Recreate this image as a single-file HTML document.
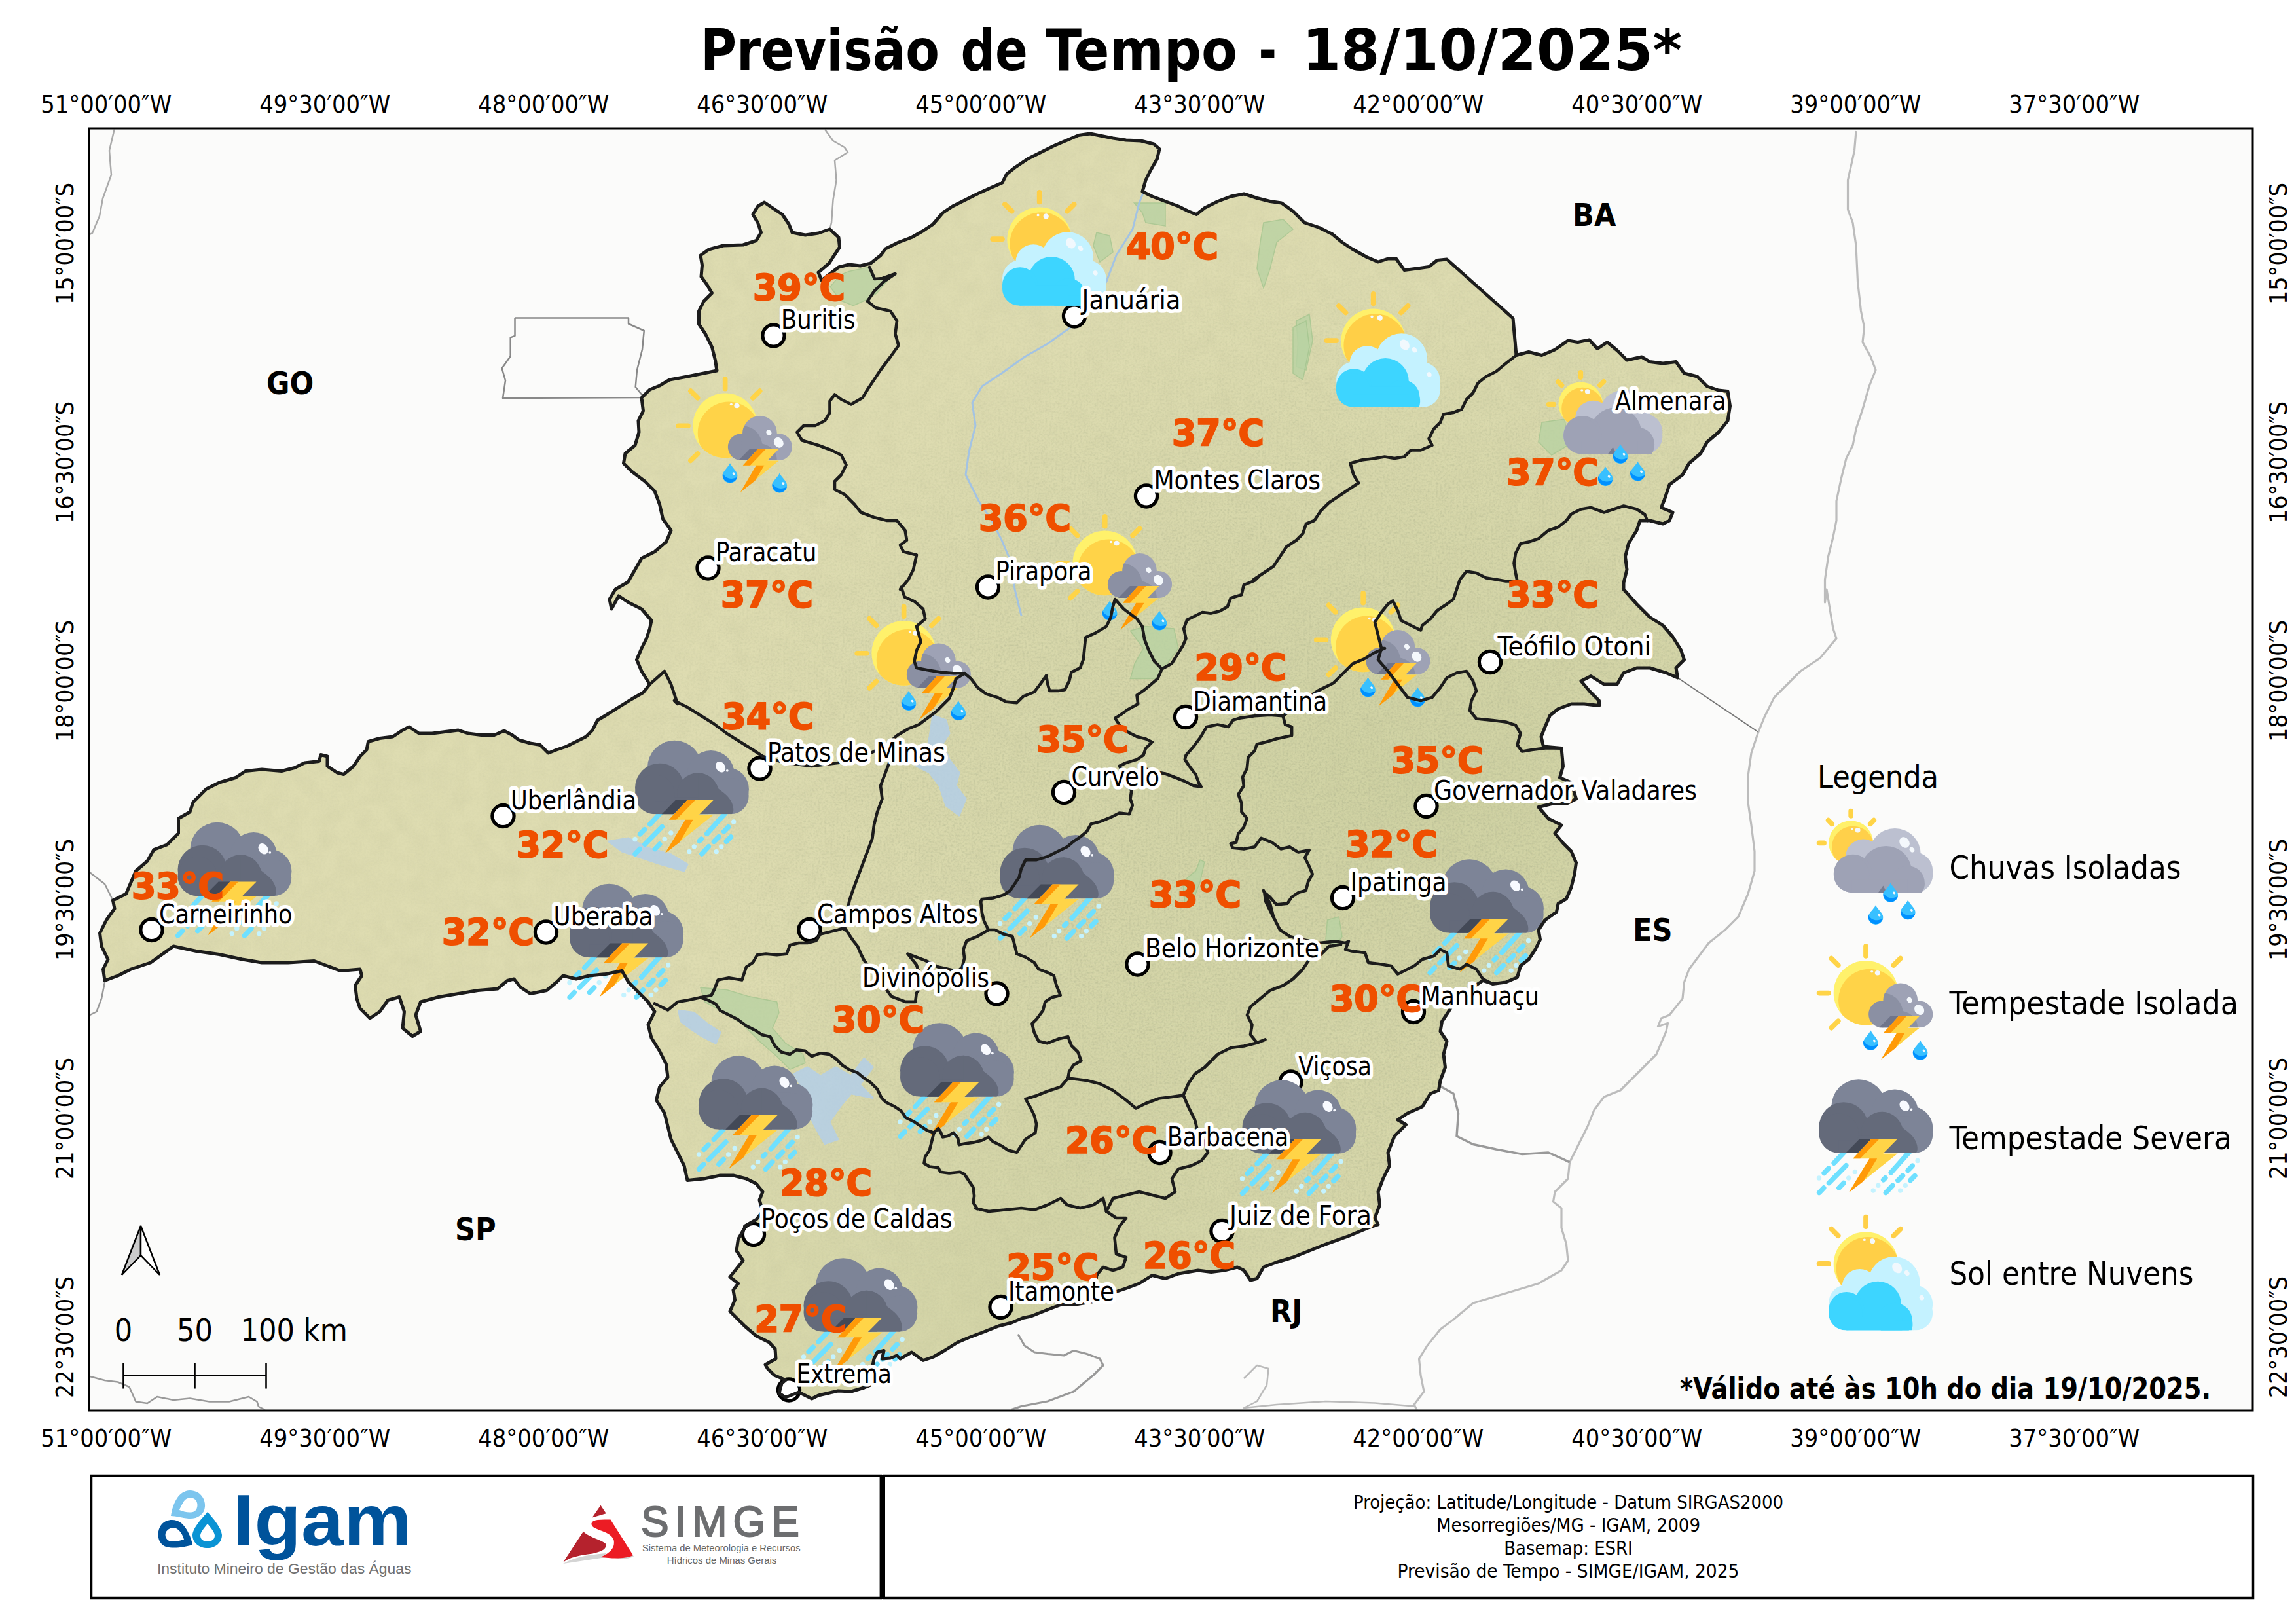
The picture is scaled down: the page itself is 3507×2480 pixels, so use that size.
<!DOCTYPE html>
<html lang="pt-BR"><head><meta charset="utf-8"><title>Previsão de Tempo - 18/10/2025</title>
<style>
html,body{margin:0;padding:0;background:#fff;}
svg{display:block;font-family:'DejaVu Sans Condensed','DejaVu Sans','Liberation Sans',sans-serif;}
.city{font-size:40px;fill:#000;stroke:#fff;stroke-width:11px;stroke-linejoin:round;paint-order:stroke;}
.temp{font-size:55.5px;font-weight:bold;fill:#ef4f00;stroke:#ef4f00;stroke-width:2px;}
.uf{font-size:48px;font-weight:bold;fill:#000;}
.coord{font-size:38px;fill:#000;}
.leg{font-size:49px;fill:#000;}
.foot{font-size:24px;fill:#111;}
</style></head><body>
<svg width="3507" height="2480" viewBox="0 0 3507 2480">
<defs>
<g id="i-sol"><g transform="translate(-120,-120)"><line x1="730" y1="150" x2="730" y2="270" stroke="#ffcf47" stroke-width="62" stroke-linecap="round"/><line x1="302" y1="298" x2="388" y2="384" stroke="#ffcf47" stroke-width="62" stroke-linecap="round"/><line x1="1160" y1="298" x2="1074" y2="384" stroke="#ffcf47" stroke-width="62" stroke-linecap="round"/><line x1="150" y1="730" x2="270" y2="730" stroke="#ffcf47" stroke-width="62" stroke-linecap="round"/><circle cx="730" cy="735" r="400" fill="#fff06a"/><clipPath id="cs1"><circle cx="730" cy="735" r="400"/></clipPath><circle cx="755" cy="790" r="392" fill="#ffcf47" clip-path="url(#cs1)"/><ellipse cx="713" cy="432" rx="17" ry="15" fill="#f4f8fc"/><ellipse cx="812" cy="448" rx="33" ry="35" fill="#f4f8fc" transform="rotate(-30 812 448)"/><clipPath id="cb1"><rect x="0" y="0" width="1700" height="1555"/></clipPath><g fill="#c4f2ff" clip-path="url(#cb1)"><circle cx="1080" cy="962" r="320"/><circle cx="655" cy="1015" r="220"/><circle cx="495" cy="1215" r="225"/><circle cx="1320" cy="1230" r="240"/><rect x="495" y="1000" width="830" height="555"/><circle cx="560" cy="1340" r="215"/><circle cx="1345" cy="1340" r="215"/></g><g fill="#3dd5ff" clip-path="url(#cb1)"><circle cx="880" cy="1238" r="290"/><circle cx="490" cy="1300" r="220"/><circle cx="1090" cy="1430" r="215"/><rect x="490" y="1300" width="600" height="255"/><circle cx="480" cy="1345" r="210"/><rect x="480" y="1400" width="700" height="155"/><path d="M1090,1555 L1297,1555 A215,215 0 0 0 1305,1430 L1090,1430Z"/></g><ellipse cx="1118" cy="782" rx="55" ry="70" fill="#f1f8fd" transform="rotate(-38 1118 782)"/><ellipse cx="1240" cy="845" rx="28" ry="36" fill="#f1f8fd" transform="rotate(-38 1240 845)"/><ellipse cx="1423" cy="1150" rx="28" ry="32" fill="#f1f8fd" transform="rotate(-30 1423 1150)"/></g></g>
<g id="i-chuva"><g transform="translate(-120,-120)"><line x1="545" y1="150" x2="545" y2="210" stroke="#ffd447" stroke-width="62" stroke-linecap="round"/><line x1="265" y1="265" x2="310" y2="310" stroke="#ffd447" stroke-width="62" stroke-linecap="round"/><line x1="830" y1="265" x2="785" y2="310" stroke="#ffd447" stroke-width="62" stroke-linecap="round"/><line x1="150" y1="547" x2="212" y2="547" stroke="#ffd447" stroke-width="62" stroke-linecap="round"/><circle cx="545" cy="545" r="275" fill="#fff06a"/><clipPath id="cs2"><circle cx="545" cy="545" r="275"/></clipPath><circle cx="570" cy="600" r="262" fill="#ffd04a" clip-path="url(#cs2)"/><ellipse cx="560" cy="372" rx="17" ry="14" fill="#f4f8fc"/><ellipse cx="630" cy="388" rx="32" ry="30" fill="#f4f8fc"/><clipPath id="cb2"><rect x="0" y="0" width="1700" height="1160"/></clipPath><g fill="#bcc0d0" clip-path="url(#cb2)"><circle cx="1090" cy="685" r="320"/><circle cx="700" cy="722" r="222"/><circle cx="1330" cy="890" r="230"/><circle cx="560" cy="930" r="230"/><rect x="560" y="720" width="770" height="440"/><circle cx="1345" cy="945" r="215"/></g><g fill="#9ea2b5" clip-path="url(#cb2)"><circle cx="980" cy="905" r="320"/><circle cx="570" cy="925" r="237"/><circle cx="1250" cy="1040" r="210"/><rect x="570" y="950" width="680" height="210"/><circle cx="553" cy="940" r="220"/><path d="M553,1160 L1250,1160 L1250,1000 L553,1000Z"/><path d="M1250,1160 L1425,1160 A210,210 0 0 0 1460,1040 L1250,1040Z"/></g><ellipse cx="1210" cy="540" rx="58" ry="72" fill="#f4f8fc" transform="rotate(-38 1210 540)"/><ellipse cx="1302" cy="630" rx="28" ry="34" fill="#f4f8fc" transform="rotate(-38 1302 630)"/><path d="M945,1075 L885,1160 L990,1160Z" fill="#787c90"/><path d="M1037,1040 C1067,1100 1129,1140 1129,1190 A92,92 0 0 1 945,1190 C945,1140 1007,1100 1037,1040Z" fill="#38c0ff"/><path d="M949,1160 C967,1215 1047,1252 1127,1208 A92,92 0 1 1 949,1160Z" fill="#0090ff"/><ellipse cx="1082" cy="1165" rx="17" ry="14" fill="#f4f8fc" transform="rotate(35 1082 1165)"/><path d="M852,1318 C882,1378 944,1416 944,1466 A92,92 0 0 1 760,1466 C760,1416 822,1378 852,1318Z" fill="#38c0ff"/><path d="M764,1436 C782,1491 862,1528 942,1484 A92,92 0 1 1 764,1436Z" fill="#0090ff"/><ellipse cx="897" cy="1441" rx="17" ry="14" fill="#f4f8fc" transform="rotate(35 897 1441)"/><path d="M1252,1255 C1282,1315 1344,1355 1344,1405 A92,92 0 0 1 1160,1405 C1160,1355 1222,1315 1252,1255Z" fill="#38c0ff"/><path d="M1164,1375 C1182,1430 1262,1467 1342,1423 A92,92 0 1 1 1164,1375Z" fill="#0090ff"/><ellipse cx="1297" cy="1380" rx="17" ry="14" fill="#f4f8fc" transform="rotate(35 1297 1380)"/></g></g>
<g id="i-tisol"><g transform="translate(-120,-92)"><line x1="730" y1="123" x2="730" y2="244" stroke="#ffd447" stroke-width="62" stroke-linecap="round"/><line x1="302" y1="272" x2="388" y2="358" stroke="#ffd447" stroke-width="62" stroke-linecap="round"/><line x1="1160" y1="272" x2="1074" y2="358" stroke="#ffd447" stroke-width="62" stroke-linecap="round"/><line x1="150" y1="703" x2="270" y2="703" stroke="#ffd447" stroke-width="62" stroke-linecap="round"/><line x1="302" y1="1134" x2="388" y2="1050" stroke="#ffd447" stroke-width="62" stroke-linecap="round"/><circle cx="730" cy="700" r="400" fill="#fff16b"/><clipPath id="cs3"><circle cx="730" cy="700" r="400"/></clipPath><circle cx="775" cy="790" r="385" fill="#ffd348" clip-path="url(#cs3)"/><ellipse cx="805" cy="437" rx="17" ry="14" fill="#f4f8fc"/><ellipse cx="875" cy="453" rx="33" ry="31" fill="#f4f8fc"/><clipPath id="cb3"><rect x="0" y="0" width="1700" height="1131"/></clipPath><g fill="#9ea2b5" clip-path="url(#cb3)"><circle cx="1160" cy="792" r="212"/><circle cx="1395" cy="965" r="166"/><rect x="1100" y="900" width="300" height="230"/></g><g fill="#8b90a3"><circle cx="930" cy="965" r="166"/><path d="M930,1131 L1372,1131 C1375,1030 1300,950 1190,925 C1170,800 1080,715 965,705 C940,760 945,800 950,840 L930,840Z"/></g><ellipse cx="1272" cy="788" rx="30" ry="36" fill="#f4f8fc" transform="rotate(-35 1272 788)"/><ellipse cx="1393" cy="910" rx="56" ry="68" fill="#f4f8fc" transform="rotate(-38 1393 910)"/><path d="M1040,985 L1240,985 L1090,1131 L895,1131Z" fill="#70758a"/><path d="M1140,985 L1400,985 L1255,1135 L1395,1135 L920,1525 L1115,1195 L950,1195Z" fill="#ffd447"/><path d="M1140,985 L1240,985 L1040,1195 L1215,1195 L1100,1385 L920,1525 L1115,1195 L950,1195Z" fill="#ff9a08"/><path d="M790,1165 C820,1225 882,1270 882,1320 A92,92 0 0 1 698,1320 C698,1270 760,1225 790,1165Z" fill="#38c0ff"/><path d="M702,1290 C720,1345 800,1382 880,1338 A92,92 0 1 1 702,1290Z" fill="#0090ff"/><ellipse cx="835" cy="1295" rx="17" ry="14" fill="#f4f8fc" transform="rotate(35 835 1295)"/><path d="M1405,1290 C1435,1350 1497,1392 1497,1442 A92,92 0 0 1 1313,1442 C1313,1392 1375,1350 1405,1290Z" fill="#38c0ff"/><path d="M1317,1412 C1335,1467 1415,1504 1495,1460 A92,92 0 1 1 1317,1412Z" fill="#0090ff"/><ellipse cx="1450" cy="1417" rx="17" ry="14" fill="#f4f8fc" transform="rotate(35 1450 1417)"/></g></g>
<g id="i-tsev"><g transform="translate(-120,-140)"><line x1="470" y1="1040" x2="335" y2="1185" stroke="#6fe0ff" stroke-width="62" stroke-linecap="round"/><line x1="268" y1="1250" x2="212" y2="1308" stroke="#6fe0ff" stroke-width="62" stroke-linecap="round"/><line x1="485" y1="1215" x2="272" y2="1432" stroke="#6fe0ff" stroke-width="62" stroke-linecap="round"/><line x1="208" y1="1492" x2="152" y2="1552" stroke="#6fe0ff" stroke-width="62" stroke-linecap="round"/><line x1="455" y1="1432" x2="397" y2="1492" stroke="#6fe0ff" stroke-width="62" stroke-linecap="round"/><line x1="1275" y1="1040" x2="1042" y2="1302" stroke="#6fe0ff" stroke-width="62" stroke-linecap="round"/><line x1="972" y1="1368" x2="948" y2="1392" stroke="#6fe0ff" stroke-width="62" stroke-linecap="round"/><line x1="1308" y1="1218" x2="1252" y2="1275" stroke="#6fe0ff" stroke-width="62" stroke-linecap="round"/><line x1="1188" y1="1340" x2="1128" y2="1400" stroke="#6fe0ff" stroke-width="62" stroke-linecap="round"/><line x1="1062" y1="1462" x2="978" y2="1552" stroke="#6fe0ff" stroke-width="62" stroke-linecap="round"/><line x1="1338" y1="1342" x2="1282" y2="1398" stroke="#6fe0ff" stroke-width="62" stroke-linecap="round"/><circle cx="150" cy="1370" r="30" fill="#c4f3ff"/><circle cx="595" cy="1292" r="30" fill="#c4f3ff"/><circle cx="517" cy="1370" r="30" fill="#c4f3ff"/><circle cx="1373" cy="1155" r="30" fill="#c4f3ff"/><circle cx="883" cy="1462" r="30" fill="#c4f3ff"/><circle cx="822" cy="1525" r="30" fill="#c4f3ff"/><circle cx="1220" cy="1462" r="30" fill="#c4f3ff"/><circle cx="1158" cy="1525" r="30" fill="#c4f3ff"/><clipPath id="cb4"><rect x="0" y="0" width="1700" height="1060"/></clipPath><g fill="#7d8497" clip-path="url(#cb4)"><circle cx="640" cy="482" r="336"/><circle cx="1090" cy="562" r="292"/><circle cx="1290" cy="752" r="272"/><rect x="640" y="600" width="650" height="460"/><circle cx="1335" cy="835" r="225"/></g><g fill="#646a7a" clip-path="url(#cb4)"><circle cx="455" cy="735" r="305"/><circle cx="930" cy="805" r="257"/><rect x="455" y="850" width="600" height="210"/><circle cx="395" cy="815" r="245"/><rect x="395" y="900" width="600" height="160"/><path d="M930,1060 L1345,1060 C1390,1040 1370,940 1330,880 C1290,820 1230,780 1185,745 C1150,640 1050,560 930,548Z"/></g><ellipse cx="1210" cy="475" rx="55" ry="72" fill="#f8faff" transform="rotate(-38 1210 475)"/><circle cx="1293" cy="520" r="15" fill="#f8faff"/><path d="M655,883 L800,883 L625,1060 L480,1060Z" fill="#434957"/><path d="M800,883 L1125,883 L945,1065 L1125,1065 L520,1548 L775,1128 L570,1128Z" fill="#ffd447"/><path d="M800,883 L900,883 L660,1128 L870,1128 L700,1410 L520,1548 L775,1128 L570,1128Z" fill="#ff9a08"/></g></g>
<clipPath id="mapclip"><rect x="137.5" y="197.5" width="3302" height="1955"/></clipPath>
<clipPath id="mgclip"><path d="M934,930 L931,915 L940,900 L959,889 L970,870 L980,852.5 L1000,842.5 L1017.5,827.5 L1025,810 L1012.5,792.5 L1007.5,770 L1000,750 L985,735 L965,720 L952.5,707.5 L955,692.5 L970,680 L976,660 L975,642.5 L982.5,627.5 L980,607.5 L992.5,595 L1007.5,589 L1022.5,580 L1050,575 L1095,566 L1092.5,550 L1087.5,530 L1077.5,510 L1067.5,495 L1067.5,475 L1075,460 L1087.5,447.5 L1080,435 L1071,422.5 L1072.5,405 L1070,390 L1082.5,381 L1105,375 L1135,374 L1155,367.5 L1162.5,355 L1157.5,340 L1150,327.5 L1157.5,315 L1167.5,309 L1180,317.5 L1195,327.5 L1205,342.5 L1210,355 L1230,359 L1250,356 L1267.5,350 L1281,362.5 L1282.5,377.5 L1272.5,392.5 L1266.5,402 L1250,416 L1255,428 L1268,418 L1281,408 L1297,404 L1314,406 L1330,402 L1345,390 L1352.5,380 L1372.5,370 L1392.5,362.5 L1410,352.5 L1425,342.5 L1440,325 L1455,315 L1475,305 L1495,295 L1515,286 L1531,279 L1537.5,266 L1550,256 L1570,242.5 L1590,232.5 L1610,222.5 L1630,214 L1647.5,206.5 L1665,204 L1682.5,207.5 L1700,211 L1720,214 L1742.5,215 L1762.5,220 L1771,227.5 L1767.5,242.5 L1757.5,260 L1750,275 L1745,292.5 L1760,300 L1780,307.5 L1800,315 L1815,322.5 L1827.5,327.5 L1840,317.5 L1860,307.5 L1880,300 L1900,296 L1920,302.5 L1940,307.5 L1957.5,310 L1975,322.5 L1992.5,340 L2015,347.5 L2035,357.5 L2050,370 L2065,380 L2087.5,392.5 L2105,400 L2120,395 L2132.5,395 L2145,412.5 L2165,410 L2182.5,407.5 L2195,397.5 L2210,396 L2311,486 L2316,542.5 L2335,537.5 L2355,542.5 L2375,534 L2395,520 L2410,522.5 L2427.5,519 L2440,532.5 L2455,522.5 L2470,535 L2485,550 L2507.5,545 L2520,552.5 L2540,555 L2560,552.5 L2572.5,570 L2592.5,575 L2607.5,590 L2625,596 L2639,597.5 L2642.5,620 L2639,642.5 L2625,660 L2607.5,675 L2597.5,692.5 L2580,707.5 L2570,725 L2550,740 L2542.5,762.5 L2537.5,775 L2555,782.5 L2550,795 L2540,800 L2520,795 L2505,795 L2500,810 L2487.5,830 L2482.5,850 L2485,870 L2480,890 L2480,900 L2500,922.5 L2520,942.5 L2540,955 L2555,972.5 L2567.5,992.5 L2572.5,1007.5 L2560,1020 L2562.5,1035 L2545,1027.5 L2520,1020 L2500,1020 L2480,1027.5 L2470,1045 L2450,1045 L2430,1032.5 L2415,1040 L2427.5,1055 L2442.5,1070 L2442.5,1077.5 L2420,1075 L2400,1075 L2380,1082.5 L2367.5,1092.5 L2360,1110 L2354,1125 L2357.5,1140 L2385,1142.5 L2387.5,1170 L2382.5,1187.5 L2400,1195 L2407.5,1220 L2392.5,1227.5 L2370,1227.5 L2350,1232.5 L2365,1250 L2385,1260 L2375,1272.5 L2387.5,1287.5 L2400,1300 L2407.5,1317.5 L2405,1335 L2400,1355 L2392.5,1372.5 L2380,1380 L2377.5,1392.5 L2360,1405 L2350,1420 L2352.5,1435 L2345,1450 L2335,1465 L2322.5,1475 L2317.5,1492.5 L2300,1500 L2280,1502.5 L2265,1497.5 L2250,1507.5 L2235,1520 L2220,1532.5 L2212.5,1545 L2202.5,1560 L2200,1575 L2210,1590 L2205,1610 L2207.5,1630 L2200,1650 L2197.5,1665 L2185,1670 L2172.5,1690 L2150,1700 L2135,1710 L2147.5,1717.5 L2130,1735 L2120,1760 L2122.5,1780 L2112.5,1800 L2105,1820 L2107.5,1840 L2100,1860 L2105,1870 L2090,1875 L2060,1887.5 L2025,1900 L2000,1910 L1975,1920 L1950,1927.5 L1930,1935 L1920,1952.5 L1910,1955 L1900,1940 L1890,1935 L1870,1940 L1850,1942.5 L1830,1940 L1800,1945 L1780,1952.5 L1760,1947.5 L1740,1960 L1720,1967.5 L1705,1972.5 L1670,1987.5 L1640,1992.5 L1620,1992.5 L1600,2000 L1575,2010 L1562.5,2012.5 L1545,2020 L1525,2025 L1500,2035 L1480,2042.5 L1462.5,2050 L1442.5,2062.5 L1425,2072.5 L1410,2077.5 L1392.5,2065 L1375,2075 L1370,2070 L1360,2074 L1347.5,2075 L1350,2062.5 L1340,2065 L1335,2075 L1332.5,2087.5 L1330,2115 L1320,2119 L1300,2125 L1280,2124 L1250,2131 L1240,2136 L1220,2126 L1200,2134 L1190,2127.5 L1194,2112.5 L1200,2107.5 L1182.5,2100 L1172.5,2090 L1169,2084 L1185,2075 L1184,2060 L1175,2050 L1155,2040 L1137.5,2025 L1115,2002.5 L1122.5,1985 L1120,1970 L1127.5,1960 L1115,1950 L1125,1937.5 L1135,1925 L1125,1910 L1127.5,1892.5 L1137.5,1875 L1137.5,1872.5 L1155,1862.5 L1165,1850 L1160,1832.5 L1165,1820 L1155,1807.5 L1140,1800 L1120,1795 L1100,1795 L1075,1800 L1050,1802.5 L1045,1780 L1035,1760 L1025,1740 L1020,1720 L1015,1700 L1002.5,1680 L1007.5,1660 L1020,1645 L1017.5,1625 L1007.5,1605 L995,1585 L990,1565 L1000,1545 L990,1530 L975,1515 L960,1500 L950,1482.5 L925,1487.5 L900,1490 L880,1495 L860,1490 L850,1500 L835,1512.5 L810,1517.5 L795,1507.5 L785,1495 L775,1497.5 L760,1510 L730,1512.5 L700,1517.5 L670,1522.5 L642.5,1530 L635,1550 L642.5,1575 L630,1582.5 L615,1570 L617.5,1545 L610,1522.5 L592.5,1527.5 L580,1545 L565,1555 L550,1540 L545,1525 L542.5,1505 L552.5,1490 L550,1480 L520,1482.5 L500,1475 L480,1467.5 L440,1470 L400,1470 L370,1465 L335,1457.5 L300,1452.5 L265,1445 L230,1470 L200,1480 L180,1490 L160,1497.5 L157.5,1480 L165,1465 L155,1445 L152.5,1425 L162.5,1405 L175,1387.5 L172.5,1375 L192.5,1365 L200,1347.5 L207.5,1330 L225,1315 L235,1297.5 L255,1290 L272.5,1272.5 L272.5,1250 L290,1240 L295,1225 L315,1205 L335,1195 L360,1187.5 L375,1177.5 L400,1175 L430,1177.5 L450,1172.5 L465,1165 L487.5,1162.5 L490,1152.5 L500,1155 L500,1170 L515,1180 L525,1182.5 L540,1170 L550,1155 L560,1145 L562.5,1132.5 L580,1127.5 L600,1125 L615,1115 L625,1110 L640,1120 L660,1120 L680,1117.5 L700,1115 L715,1120 L735,1122.5 L755,1122.5 L770,1116 L782.5,1122.5 L792.5,1130 L810,1135 L825,1137.5 L837.5,1150 L850,1145 L865,1140 L880,1132.5 L895,1125 L905,1115 L912.5,1100 L925,1092.5 L945,1080 L965,1067.5 L982.5,1057.5 L992.5,1045 L980,1025 L972.5,1007.5 L980,990 L987.5,975 L992.5,960 L995,947.5 L980,930 L960,920 L945,910Z"/></clipPath>
<filter id="tex" x="0" y="0" width="100%" height="100%"><feTurbulence type="fractalNoise" baseFrequency="0.035" numOctaves="3" seed="7" result="n"/><feColorMatrix in="n" type="matrix" values="0 0 0 0 0.50  0 0 0 0 0.50  0 0 0 0 0.30  0.8 0.8 0 0 -0.62"/></filter>
<radialGradient id="g1" cx="0.78" cy="0.52" r="0.42"><stop offset="0" stop-color="#aebb84" stop-opacity="0.32"/><stop offset="1" stop-color="#aebb84" stop-opacity="0"/></radialGradient>
<radialGradient id="g2" cx="0.55" cy="0.9" r="0.3"><stop offset="0" stop-color="#b6c08c" stop-opacity="0.28"/><stop offset="1" stop-color="#b6c08c" stop-opacity="0"/></radialGradient>
<filter id="tex2" x="0" y="0" width="100%" height="100%"><feTurbulence type="fractalNoise" baseFrequency="0.32" numOctaves="2" seed="3" result="n"/><feColorMatrix in="n" type="matrix" values="0 0 0 0 0.42  0 0 0 0 0.45  0 0 0 0 0.27  1.6 1.6 0 0 -1.42"/></filter>
<radialGradient id="m1" cx="0.76" cy="0.55" r="0.5"><stop offset="0" stop-color="#fff"/><stop offset="0.55" stop-color="#bbb"/><stop offset="1" stop-color="#222"/></radialGradient>
<mask id="mk1" maskUnits="userSpaceOnUse" x="137" y="197" width="2600" height="1960"><rect x="137" y="197" width="2600" height="1960" fill="url(#m1)"/></mask>
</defs>
<rect width="3507" height="2480" fill="#fff"/>

<g font-size="87.7" font-weight="bold">
<text x="1070" y="106.6" textLength="365" lengthAdjust="spacingAndGlyphs">Previsão</text>
<text x="1467.5" y="106.6" textLength="102.5" lengthAdjust="spacingAndGlyphs">de</text>
<text x="1597.5" y="106.6" textLength="292.5" lengthAdjust="spacingAndGlyphs">Tempo</text>
<text x="1922.5" y="106.6" textLength="27.5" lengthAdjust="spacingAndGlyphs">-</text>
<text x="1989" y="106.6" textLength="580" lengthAdjust="spacingAndGlyphs">18/10/2025*</text>
</g>
<text class="coord" x="162.2" y="172" text-anchor="middle" textLength="200" lengthAdjust="spacingAndGlyphs">51°00′00″W</text>
<text class="coord" x="162.2" y="2209" text-anchor="middle" textLength="200" lengthAdjust="spacingAndGlyphs">51°00′00″W</text>
<text class="coord" x="496.2" y="172" text-anchor="middle" textLength="200" lengthAdjust="spacingAndGlyphs">49°30′00″W</text>
<text class="coord" x="496.2" y="2209" text-anchor="middle" textLength="200" lengthAdjust="spacingAndGlyphs">49°30′00″W</text>
<text class="coord" x="830.2" y="172" text-anchor="middle" textLength="200" lengthAdjust="spacingAndGlyphs">48°00′00″W</text>
<text class="coord" x="830.2" y="2209" text-anchor="middle" textLength="200" lengthAdjust="spacingAndGlyphs">48°00′00″W</text>
<text class="coord" x="1164.2" y="172" text-anchor="middle" textLength="200" lengthAdjust="spacingAndGlyphs">46°30′00″W</text>
<text class="coord" x="1164.2" y="2209" text-anchor="middle" textLength="200" lengthAdjust="spacingAndGlyphs">46°30′00″W</text>
<text class="coord" x="1498.2" y="172" text-anchor="middle" textLength="200" lengthAdjust="spacingAndGlyphs">45°00′00″W</text>
<text class="coord" x="1498.2" y="2209" text-anchor="middle" textLength="200" lengthAdjust="spacingAndGlyphs">45°00′00″W</text>
<text class="coord" x="1832.2" y="172" text-anchor="middle" textLength="200" lengthAdjust="spacingAndGlyphs">43°30′00″W</text>
<text class="coord" x="1832.2" y="2209" text-anchor="middle" textLength="200" lengthAdjust="spacingAndGlyphs">43°30′00″W</text>
<text class="coord" x="2166.2" y="172" text-anchor="middle" textLength="200" lengthAdjust="spacingAndGlyphs">42°00′00″W</text>
<text class="coord" x="2166.2" y="2209" text-anchor="middle" textLength="200" lengthAdjust="spacingAndGlyphs">42°00′00″W</text>
<text class="coord" x="2500.2" y="172" text-anchor="middle" textLength="200" lengthAdjust="spacingAndGlyphs">40°30′00″W</text>
<text class="coord" x="2500.2" y="2209" text-anchor="middle" textLength="200" lengthAdjust="spacingAndGlyphs">40°30′00″W</text>
<text class="coord" x="2834.2" y="172" text-anchor="middle" textLength="200" lengthAdjust="spacingAndGlyphs">39°00′00″W</text>
<text class="coord" x="2834.2" y="2209" text-anchor="middle" textLength="200" lengthAdjust="spacingAndGlyphs">39°00′00″W</text>
<text class="coord" x="3168.2" y="172" text-anchor="middle" textLength="200" lengthAdjust="spacingAndGlyphs">37°30′00″W</text>
<text class="coord" x="3168.2" y="2209" text-anchor="middle" textLength="200" lengthAdjust="spacingAndGlyphs">37°30′00″W</text>
<text class="coord" transform="translate(112,372.0) rotate(-90)" text-anchor="middle" textLength="186" lengthAdjust="spacingAndGlyphs">15°00′00″S</text>
<text class="coord" transform="translate(3493,372.0) rotate(-90)" text-anchor="middle" textLength="186" lengthAdjust="spacingAndGlyphs">15°00′00″S</text>
<text class="coord" transform="translate(112,706.0) rotate(-90)" text-anchor="middle" textLength="186" lengthAdjust="spacingAndGlyphs">16°30′00″S</text>
<text class="coord" transform="translate(3493,706.0) rotate(-90)" text-anchor="middle" textLength="186" lengthAdjust="spacingAndGlyphs">16°30′00″S</text>
<text class="coord" transform="translate(112,1040.0) rotate(-90)" text-anchor="middle" textLength="186" lengthAdjust="spacingAndGlyphs">18°00′00″S</text>
<text class="coord" transform="translate(3493,1040.0) rotate(-90)" text-anchor="middle" textLength="186" lengthAdjust="spacingAndGlyphs">18°00′00″S</text>
<text class="coord" transform="translate(112,1374.0) rotate(-90)" text-anchor="middle" textLength="186" lengthAdjust="spacingAndGlyphs">19°30′00″S</text>
<text class="coord" transform="translate(3493,1374.0) rotate(-90)" text-anchor="middle" textLength="186" lengthAdjust="spacingAndGlyphs">19°30′00″S</text>
<text class="coord" transform="translate(112,1708.0) rotate(-90)" text-anchor="middle" textLength="186" lengthAdjust="spacingAndGlyphs">21°00′00″S</text>
<text class="coord" transform="translate(3493,1708.0) rotate(-90)" text-anchor="middle" textLength="186" lengthAdjust="spacingAndGlyphs">21°00′00″S</text>
<text class="coord" transform="translate(112,2042.0) rotate(-90)" text-anchor="middle" textLength="186" lengthAdjust="spacingAndGlyphs">22°30′00″S</text>
<text class="coord" transform="translate(3493,2042.0) rotate(-90)" text-anchor="middle" textLength="186" lengthAdjust="spacingAndGlyphs">22°30′00″S</text>
<g clip-path="url(#mapclip)">
<rect x="136" y="196" width="3305" height="1958" fill="#fbfbfa"/>
<path d="M2835,200 L2832.5,230 L2822.5,275 L2822.5,320 L2830,340 L2835,375 L2837.5,430 L2842.5,475 L2847.5,500 L2845,522.5 L2857.5,545 L2865,565 L2855,590 L2845,625 L2835,655 L2830,680 L2820,700 L2812.5,730 L2805,765 L2805,795 L2800,820 L2792.5,850 L2787.5,885 L2787.5,920 L2790,900 L2795,930 L2800,960 L2805,975 L2780,1005 L2750,1025 L2725,1050 L2710,1065 L2695,1095 L2685,1120 L2675,1150 L2670,1185 L2670,1225 L2675,1260 L2680,1300 L2680,1330 L2670,1365 L2655,1400 L2635,1420 L2610,1440 L2595,1460 L2580,1480 L2572.5,1500 L2570,1525 L2550,1550 L2537.5,1555 L2532.5,1567.5 L2547.5,1562.5 L2545,1575 L2530,1610 L2500,1640 L2475,1665 L2450,1675 L2435,1695 L2425,1720 L2410,1750 L2397.5,1775 L2395,1800 L2375,1820 L2372.5,1835 L2385,1845 L2385,1875 L2392.5,1900 L2395,1925 L2385,1940 L2350,1960 L2300,1975 L2250,1990 L2220,2015 L2200,2030 L2180,2055 L2167.5,2075 L2170,2100 L2175,2125 L2160,2145 L2165,2155" fill="none" stroke="#bcbcbc" stroke-width="3.2" stroke-linejoin="round"/>
<path d="M2562.5,1035 L2685,1117.5" fill="none" stroke="#777" stroke-width="2" stroke-linejoin="round"/>
<path d="M2197.5,1657.5 L2220,1670 L2227.5,1700 L2225,1735 L2250,1747.5 L2285,1755 L2325,1762.5 L2365,1760 L2387.5,1770 L2397.5,1775" fill="none" stroke="#999" stroke-width="3.5" stroke-linejoin="round"/>
<path d="M1555,2037.5 L1565,2055 L1580,2065 L1600,2067.5 L1625,2070 L1640,2062.5 L1660,2067.5 L1680,2075 L1685,2085 L1670,2100 L1640,2125 L1600,2140 L1560,2147.5 L1545,2152.5" fill="none" stroke="#999" stroke-width="3.2" stroke-linejoin="round"/>
<path d="M1900,2105 L1920,2085 L1937.5,2090 L1935,2115 L1920,2140 L1900,2150 L1950,2145 L2025,2140 L2100,2142.5 L2160,2147.5" fill="none" stroke="#bbb" stroke-width="2.5" stroke-linejoin="round"/>
<path d="M1260,197.5 L1272.5,215 L1290,225 L1295,232.5 L1275,245 L1277.5,275 L1272.5,305 L1270,340 L1267.5,350" fill="none" stroke="#aaa" stroke-width="2.5" stroke-linejoin="round"/>
<path d="M786.5,485.6 L960,485.6 L960,494.5 L983.8,505 L981,533.8 L973,565 L970.7,591 L983.8,607 L768,608 L772,581 L766.6,562.5 L779.7,544 L779.7,515.4 L786.5,512.8 L786.5,485.6" fill="none" stroke="#888" stroke-width="2.5" stroke-linejoin="round"/>
<path d="M175,196 L167,230 L170,267 L157,303 L152,330 L141,356 L137,358" fill="none" stroke="#aaa" stroke-width="2.5" stroke-linejoin="round"/>
<path d="M137.5,2102 L160,2108 L180,2110.5 L197.5,2118 L207.5,2140.5 L225,2143 L240,2133 L265,2138 L290,2135.5 L320,2140.5 L350,2140.5 L380,2133 L392.5,2140.5 L395,2148 L405,2153" fill="none" stroke="#999" stroke-width="2.5" stroke-linejoin="round"/>
<path d="M137.5,1332.5 L160,1350 L170,1370 L175,1387.5" fill="none" stroke="#999" stroke-width="2.5" stroke-linejoin="round"/>
<path d="M160,1500 L155,1525 L147.5,1545 L137.5,1550" fill="none" stroke="#999" stroke-width="2.5" stroke-linejoin="round"/>
<path d="M934,930 L931,915 L940,900 L959,889 L970,870 L980,852.5 L1000,842.5 L1017.5,827.5 L1025,810 L1012.5,792.5 L1007.5,770 L1000,750 L985,735 L965,720 L952.5,707.5 L955,692.5 L970,680 L976,660 L975,642.5 L982.5,627.5 L980,607.5 L992.5,595 L1007.5,589 L1022.5,580 L1050,575 L1095,566 L1092.5,550 L1087.5,530 L1077.5,510 L1067.5,495 L1067.5,475 L1075,460 L1087.5,447.5 L1080,435 L1071,422.5 L1072.5,405 L1070,390 L1082.5,381 L1105,375 L1135,374 L1155,367.5 L1162.5,355 L1157.5,340 L1150,327.5 L1157.5,315 L1167.5,309 L1180,317.5 L1195,327.5 L1205,342.5 L1210,355 L1230,359 L1250,356 L1267.5,350 L1281,362.5 L1282.5,377.5 L1272.5,392.5 L1266.5,402 L1250,416 L1255,428 L1268,418 L1281,408 L1297,404 L1314,406 L1330,402 L1345,390 L1352.5,380 L1372.5,370 L1392.5,362.5 L1410,352.5 L1425,342.5 L1440,325 L1455,315 L1475,305 L1495,295 L1515,286 L1531,279 L1537.5,266 L1550,256 L1570,242.5 L1590,232.5 L1610,222.5 L1630,214 L1647.5,206.5 L1665,204 L1682.5,207.5 L1700,211 L1720,214 L1742.5,215 L1762.5,220 L1771,227.5 L1767.5,242.5 L1757.5,260 L1750,275 L1745,292.5 L1760,300 L1780,307.5 L1800,315 L1815,322.5 L1827.5,327.5 L1840,317.5 L1860,307.5 L1880,300 L1900,296 L1920,302.5 L1940,307.5 L1957.5,310 L1975,322.5 L1992.5,340 L2015,347.5 L2035,357.5 L2050,370 L2065,380 L2087.5,392.5 L2105,400 L2120,395 L2132.5,395 L2145,412.5 L2165,410 L2182.5,407.5 L2195,397.5 L2210,396 L2311,486 L2316,542.5 L2335,537.5 L2355,542.5 L2375,534 L2395,520 L2410,522.5 L2427.5,519 L2440,532.5 L2455,522.5 L2470,535 L2485,550 L2507.5,545 L2520,552.5 L2540,555 L2560,552.5 L2572.5,570 L2592.5,575 L2607.5,590 L2625,596 L2639,597.5 L2642.5,620 L2639,642.5 L2625,660 L2607.5,675 L2597.5,692.5 L2580,707.5 L2570,725 L2550,740 L2542.5,762.5 L2537.5,775 L2555,782.5 L2550,795 L2540,800 L2520,795 L2505,795 L2500,810 L2487.5,830 L2482.5,850 L2485,870 L2480,890 L2480,900 L2500,922.5 L2520,942.5 L2540,955 L2555,972.5 L2567.5,992.5 L2572.5,1007.5 L2560,1020 L2562.5,1035 L2545,1027.5 L2520,1020 L2500,1020 L2480,1027.5 L2470,1045 L2450,1045 L2430,1032.5 L2415,1040 L2427.5,1055 L2442.5,1070 L2442.5,1077.5 L2420,1075 L2400,1075 L2380,1082.5 L2367.5,1092.5 L2360,1110 L2354,1125 L2357.5,1140 L2385,1142.5 L2387.5,1170 L2382.5,1187.5 L2400,1195 L2407.5,1220 L2392.5,1227.5 L2370,1227.5 L2350,1232.5 L2365,1250 L2385,1260 L2375,1272.5 L2387.5,1287.5 L2400,1300 L2407.5,1317.5 L2405,1335 L2400,1355 L2392.5,1372.5 L2380,1380 L2377.5,1392.5 L2360,1405 L2350,1420 L2352.5,1435 L2345,1450 L2335,1465 L2322.5,1475 L2317.5,1492.5 L2300,1500 L2280,1502.5 L2265,1497.5 L2250,1507.5 L2235,1520 L2220,1532.5 L2212.5,1545 L2202.5,1560 L2200,1575 L2210,1590 L2205,1610 L2207.5,1630 L2200,1650 L2197.5,1665 L2185,1670 L2172.5,1690 L2150,1700 L2135,1710 L2147.5,1717.5 L2130,1735 L2120,1760 L2122.5,1780 L2112.5,1800 L2105,1820 L2107.5,1840 L2100,1860 L2105,1870 L2090,1875 L2060,1887.5 L2025,1900 L2000,1910 L1975,1920 L1950,1927.5 L1930,1935 L1920,1952.5 L1910,1955 L1900,1940 L1890,1935 L1870,1940 L1850,1942.5 L1830,1940 L1800,1945 L1780,1952.5 L1760,1947.5 L1740,1960 L1720,1967.5 L1705,1972.5 L1670,1987.5 L1640,1992.5 L1620,1992.5 L1600,2000 L1575,2010 L1562.5,2012.5 L1545,2020 L1525,2025 L1500,2035 L1480,2042.5 L1462.5,2050 L1442.5,2062.5 L1425,2072.5 L1410,2077.5 L1392.5,2065 L1375,2075 L1370,2070 L1360,2074 L1347.5,2075 L1350,2062.5 L1340,2065 L1335,2075 L1332.5,2087.5 L1330,2115 L1320,2119 L1300,2125 L1280,2124 L1250,2131 L1240,2136 L1220,2126 L1200,2134 L1190,2127.5 L1194,2112.5 L1200,2107.5 L1182.5,2100 L1172.5,2090 L1169,2084 L1185,2075 L1184,2060 L1175,2050 L1155,2040 L1137.5,2025 L1115,2002.5 L1122.5,1985 L1120,1970 L1127.5,1960 L1115,1950 L1125,1937.5 L1135,1925 L1125,1910 L1127.5,1892.5 L1137.5,1875 L1137.5,1872.5 L1155,1862.5 L1165,1850 L1160,1832.5 L1165,1820 L1155,1807.5 L1140,1800 L1120,1795 L1100,1795 L1075,1800 L1050,1802.5 L1045,1780 L1035,1760 L1025,1740 L1020,1720 L1015,1700 L1002.5,1680 L1007.5,1660 L1020,1645 L1017.5,1625 L1007.5,1605 L995,1585 L990,1565 L1000,1545 L990,1530 L975,1515 L960,1500 L950,1482.5 L925,1487.5 L900,1490 L880,1495 L860,1490 L850,1500 L835,1512.5 L810,1517.5 L795,1507.5 L785,1495 L775,1497.5 L760,1510 L730,1512.5 L700,1517.5 L670,1522.5 L642.5,1530 L635,1550 L642.5,1575 L630,1582.5 L615,1570 L617.5,1545 L610,1522.5 L592.5,1527.5 L580,1545 L565,1555 L550,1540 L545,1525 L542.5,1505 L552.5,1490 L550,1480 L520,1482.5 L500,1475 L480,1467.5 L440,1470 L400,1470 L370,1465 L335,1457.5 L300,1452.5 L265,1445 L230,1470 L200,1480 L180,1490 L160,1497.5 L157.5,1480 L165,1465 L155,1445 L152.5,1425 L162.5,1405 L175,1387.5 L172.5,1375 L192.5,1365 L200,1347.5 L207.5,1330 L225,1315 L235,1297.5 L255,1290 L272.5,1272.5 L272.5,1250 L290,1240 L295,1225 L315,1205 L335,1195 L360,1187.5 L375,1177.5 L400,1175 L430,1177.5 L450,1172.5 L465,1165 L487.5,1162.5 L490,1152.5 L500,1155 L500,1170 L515,1180 L525,1182.5 L540,1170 L550,1155 L560,1145 L562.5,1132.5 L580,1127.5 L600,1125 L615,1115 L625,1110 L640,1120 L660,1120 L680,1117.5 L700,1115 L715,1120 L735,1122.5 L755,1122.5 L770,1116 L782.5,1122.5 L792.5,1130 L810,1135 L825,1137.5 L837.5,1150 L850,1145 L865,1140 L880,1132.5 L895,1125 L905,1115 L912.5,1100 L925,1092.5 L945,1080 L965,1067.5 L982.5,1057.5 L992.5,1045 L980,1025 L972.5,1007.5 L980,990 L987.5,975 L992.5,960 L995,947.5 L980,930 L960,920 L945,910Z" fill="#dedcb1"/>
<g clip-path="url(#mgclip)"><rect x="137" y="197" width="2600" height="1960" fill="url(#g1)"/><rect x="137" y="197" width="2600" height="1960" fill="url(#g2)"/><rect x="137" y="197" width="2600" height="1960" filter="url(#tex)" opacity="0.22"/><g mask="url(#mk1)"><rect x="137" y="197" width="2600" height="1960" filter="url(#tex2)" opacity="0.55"/></g></g>
<g clip-path="url(#mgclip)">
<path d="M1070,1508.3 L1110,1511.6 L1143.3,1521.6 L1186.6,1529.9 L1189.9,1546.6 L1179.9,1569.9 L1199.9,1593.2 L1226.6,1609.9 L1229.9,1623.2 L1206.6,1633.2 L1186.6,1613.2 L1159.9,1589.9 L1133.3,1563.2 L1100,1543.2 L1076.6,1529.9Z" fill="#b9d3a3" stroke="#a3c58f" stroke-width="1.5" opacity="0.8"/>
<path d="M1268,437.9 L1283.7,419.6 L1296.8,414.4 L1328.2,407.8 L1336,426.1 L1347.8,424.8 L1364.7,418.3 L1338.6,448.3 L1324.2,457.5 L1303.3,466.6 L1283.7,458.8Z" fill="#b9d3a3" stroke="#a3c58f" stroke-width="1.5" opacity="0.8"/>
<path d="M1732.5,310 L1780,310 L1780,345 L1750,340 L1745,325Z" fill="#b9d3a3" stroke="#a3c58f" stroke-width="1.5" opacity="0.8"/>
<path d="M1675,355 L1695,360 L1700,385 L1680,400 L1670,375Z" fill="#b9d3a3" stroke="#a3c58f" stroke-width="1.5" opacity="0.8"/>
<path d="M1726.5,963.3 L1749.8,956.6 L1793.1,960 L1799.8,990 L1783.1,1013.3 L1766.5,1036.6 L1726.5,1036.6 L1733.2,1013.3 L1746.5,990Z" fill="#b9d3a3" stroke="#a3c58f" stroke-width="1.5" opacity="0.8"/>
<path d="M2027.5,1405 L2045,1400 L2050,1430 L2040,1445 L2025,1435Z" fill="#b9d3a3" stroke="#a3c58f" stroke-width="1.5" opacity="0.8"/>
<path d="M1930,340 L1960,335 L1975,350 L1950,370 L1940,410 L1930,440 L1920,410 L1925,370Z" fill="#b9d3a3" stroke="#a3c58f" stroke-width="1.5" opacity="0.8"/>
<path d="M1980,490 L2000,480 L2005,520 L1995,565 L1980,560 L1982.5,525Z" fill="#b9d3a3" stroke="#a3c58f" stroke-width="1.5" opacity="0.8"/>
<path d="M2355,645 L2390,640 L2395,680 L2370,695 L2350,675Z" fill="#b9d3a3" stroke="#a3c58f" stroke-width="1.5" opacity="0.8"/>
<path d="M1975,500 L1995,490 L2000,530 L1990,580 L1975,570Z" fill="#b9d3a3" stroke="#a3c58f" stroke-width="1.5" opacity="0.8"/>
<path d="M1806.5,1346.5 L1826.5,1329.8 L1833.1,1313.1 L1839.8,1316.5 L1833.1,1346.5 L1823.1,1373.1 L1809.8,1379.8Z" fill="#b9d3a3" stroke="#a3c58f" stroke-width="1.5" opacity="0.8"/>
<path d="M1425,1092.5 L1445,1100 L1450,1120 L1440,1135 L1450,1160 L1465,1180 L1460,1200 L1475,1220 L1465,1245 L1445,1230 L1435,1200 L1420,1180 L1400,1170 L1415,1150 L1420,1125Z" fill="#b4cfe8" stroke="#b4cfe8" stroke-width="3" stroke-linejoin="round" opacity="0.85"/>
<path d="M1213.2,1639.9 L1233.2,1629.9 L1253.2,1643.2 L1276.5,1629.9 L1299.9,1643.2 L1319.9,1616.5 L1333.2,1629.9 L1313.2,1656.5 L1333.2,1676.5 L1299.9,1669.9 L1283.2,1689.8 L1266.6,1713.2 L1279.9,1739.8 L1259.9,1746.5 L1246.6,1723.2 L1233.2,1696.5 L1226.6,1663.2Z" fill="#b4cfe8" stroke="#b4cfe8" stroke-width="3" stroke-linejoin="round" opacity="0.85"/>
<path d="M1036.7,1543.2 L1060,1546.6 L1080,1563.2 L1100,1576.6 L1093.3,1593.2 L1073.3,1583.2 L1053.3,1569.9 L1040,1559.9Z" fill="#b4cfe8" stroke="#b4cfe8" stroke-width="3" stroke-linejoin="round" opacity="0.85"/>
<path d="M930,1285 L960,1280 L990,1295 L1025,1305 L1050,1320 L1045,1330 L1010,1320 L980,1310 L950,1300Z" fill="#b4cfe8" stroke="#b4cfe8" stroke-width="3" stroke-linejoin="round" opacity="0.85"/>
<path d="M1750,285 L1740,310 L1730,350 L1705,390 L1690,430 L1660,470 L1635,500 L1600,525 L1565,545 L1530,570 L1500,590 L1485,615 L1490,650 L1480,690 L1475,725 L1495,765 L1515,795 L1530,825 L1545,860 L1550,900 L1560,940" fill="none" stroke="#a3c3e3" stroke-width="3" stroke-linejoin="round"/>
</g>
<circle cx="1181.5" cy="512.5" r="16.6" fill="#fff" stroke="#000" stroke-width="5.2"/>
<circle cx="1641" cy="482.5" r="16.6" fill="#fff" stroke="#000" stroke-width="5.2"/>
<circle cx="1751" cy="757.5" r="16.6" fill="#fff" stroke="#000" stroke-width="5.2"/>
<circle cx="1081.5" cy="867.5" r="16.6" fill="#fff" stroke="#000" stroke-width="5.2"/>
<circle cx="1509" cy="896.5" r="16.6" fill="#fff" stroke="#000" stroke-width="5.2"/>
<circle cx="2455.5" cy="636" r="16.6" fill="#fff" stroke="#000" stroke-width="5.2"/>
<circle cx="231.5" cy="1420" r="16.6" fill="#fff" stroke="#000" stroke-width="5.2"/>
<circle cx="768.5" cy="1246" r="16.6" fill="#fff" stroke="#000" stroke-width="5.2"/>
<circle cx="834" cy="1423.5" r="16.6" fill="#fff" stroke="#000" stroke-width="5.2"/>
<circle cx="1160.5" cy="1173.5" r="16.6" fill="#fff" stroke="#000" stroke-width="5.2"/>
<circle cx="1236.5" cy="1420" r="16.6" fill="#fff" stroke="#000" stroke-width="5.2"/>
<circle cx="1625" cy="1210" r="16.6" fill="#fff" stroke="#000" stroke-width="5.2"/>
<circle cx="1811" cy="1095" r="16.6" fill="#fff" stroke="#000" stroke-width="5.2"/>
<circle cx="1737.5" cy="1472.5" r="16.6" fill="#fff" stroke="#000" stroke-width="5.2"/>
<circle cx="1522.5" cy="1517.5" r="16.6" fill="#fff" stroke="#000" stroke-width="5.2"/>
<circle cx="2276" cy="1011" r="16.6" fill="#fff" stroke="#000" stroke-width="5.2"/>
<circle cx="2178.5" cy="1231" r="16.6" fill="#fff" stroke="#000" stroke-width="5.2"/>
<circle cx="2051" cy="1371" r="16.6" fill="#fff" stroke="#000" stroke-width="5.2"/>
<circle cx="2159" cy="1545" r="16.6" fill="#fff" stroke="#000" stroke-width="5.2"/>
<circle cx="1971.5" cy="1652.5" r="16.6" fill="#fff" stroke="#000" stroke-width="5.2"/>
<circle cx="1771.5" cy="1760" r="16.6" fill="#fff" stroke="#000" stroke-width="5.2"/>
<circle cx="1866.5" cy="1880" r="16.6" fill="#fff" stroke="#000" stroke-width="5.2"/>
<circle cx="1528.5" cy="1996" r="16.6" fill="#fff" stroke="#000" stroke-width="5.2"/>
<circle cx="1151" cy="1885" r="16.6" fill="#fff" stroke="#000" stroke-width="5.2"/>
<circle cx="1205" cy="2122.5" r="16.6" fill="#fff" stroke="#000" stroke-width="5.2"/>
<use href="#i-sol" transform="translate(1512.5,290) scale(0.12318)"/>
<use href="#i-tisol" transform="translate(1032.5,575) scale(0.12318)"/>
<use href="#i-tisol" transform="translate(1612.6,785) scale(0.12318)"/>
<use href="#i-sol" transform="translate(2022.5,445) scale(0.12318)"/>
<use href="#i-chuva" transform="translate(2362,565) scale(0.12318)"/>
<use href="#i-tisol" transform="translate(1305.5,922.5) scale(0.12318)"/>
<use href="#i-tsev" transform="translate(966.3,1130) scale(0.12318)"/>
<use href="#i-tsev" transform="translate(866.3,1349) scale(0.12318)"/>
<use href="#i-tsev" transform="translate(267.8,1255) scale(0.12318)"/>
<use href="#i-tsev" transform="translate(1523.8,1259) scale(0.12318)"/>
<use href="#i-tsev" transform="translate(1371.3,1561.5) scale(0.12318)"/>
<use href="#i-tsev" transform="translate(1063.8,1611.5) scale(0.12318)"/>
<use href="#i-tsev" transform="translate(1223.8,1920.5) scale(0.12318)"/>
<use href="#i-tsev" transform="translate(1893.8,1648.5) scale(0.12318)"/>
<use href="#i-tsev" transform="translate(2180.3,1311.5) scale(0.12318)"/>
<use href="#i-tisol" transform="translate(2007,902) scale(0.12318)"/>
<path d="M1328,408 L1336,426 L1348,425 L1367.5,418 L1350,430 L1335,445 L1325,460 L1337.5,470 L1360,475 L1370,490 L1367.5,510 L1372.5,527.5 L1360,545 L1345,565 L1335,580 L1325,595 L1317.5,607.5 L1300,617.5 L1285,610 L1275,602.5 L1267.5,612.5 L1267.5,630 L1260,642.5 L1245,650 L1227.5,650 L1217.5,660 L1225,672.5 L1250,680 L1270,687.5 L1285,695 L1292.5,710 L1285,725 L1275,735 L1275,747.5 L1290,755 L1305,770 L1315,782.5 L1335,790 L1355,795 L1370,795 L1382.5,810 L1385,825 L1375,832.5 L1380,842.5 L1400,847.5 L1395,870 L1387.5,885 L1375,900 L1376.7,896.7 L1381.7,911.7 L1396.6,918.3 L1410,930 L1413.3,945 L1400,956.6 L1403.3,968.3 L1406.6,980 L1400,993.3 L1396.6,1009.9 L1400,1019.9 L1416.6,1023.3 L1436.6,1026.6 L1456.6,1028.3 L1473.3,1028.3" fill="none" stroke="#1c1c1c" stroke-width="4.6" stroke-linejoin="round" stroke-linecap="round"/>
<path d="M1473.3,1028.3 L1483.3,1036.6 L1493.3,1049.9 L1506.6,1059.9 L1523.3,1064.9 L1536.6,1071.6 L1553.2,1073.2 L1563.2,1063.3 L1579.9,1056.6 L1589.9,1043.3 L1598.2,1031.6 L1599.9,1043.3 L1603.2,1054.9 L1616.6,1054.9 L1626.5,1053.3 L1633.2,1039.9 L1636.5,1026.6 L1649.9,1019.9 L1654.9,1006.6 L1656.5,990 L1658.2,973.3 L1673.2,966.6 L1689.9,956.6 L1696.5,943.3 L1699.8,926.6 L1703.2,915 L1716.5,930 L1736.5,945 L1744.8,956.6 L1748.2,976.6 L1754.8,993.3 L1763.2,1009.9 L1774.8,1021.6 L1789.8,1013.3 L1798.1,999.9 L1806.5,986.6 L1811.5,975 L1808.1,960 L1813.1,946.6 L1826.5,940 L1836.5,935 L1849.8,936.6 L1863.1,933.3 L1874.8,926.6 L1879.8,913.3 L1896.4,908.3 L1899.8,893.3 L1916.4,886.7 L1923.1,880 L1915,885 L1930,875 L1945,865 L1955,850 L1965,835 L1980,825 L1990,815 L1995,800 L2007.5,795 L2017.5,780 L2030,767.5 L2045,757.5 L2060,747.5 L2075,737.5 L2067.5,725 L2062.5,707.5 L2080,702.5 L2100,700 L2115,697.5 L2130,700 L2145,697.5 L2155,687.5 L2170,687.5 L2187.5,680 L2182.5,670 L2190,655 L2200,645 L2205,632.5 L2220,630 L2232.5,625 L2240,610 L2250,600 L2257.5,585 L2270,575 L2285,567.5 L2300,555 L2316,542.5" fill="none" stroke="#1c1c1c" stroke-width="4.6" stroke-linejoin="round" stroke-linecap="round"/>
<path d="M1473.3,1028.3 L1460,1036.6 L1456.6,1049.9 L1450,1066.6 L1440,1076.6 L1430,1086.6 L1416.6,1096.6 L1403.3,1106.6 L1386.7,1113.2 L1370,1123.2 L1360,1133.2 L1362.5,1135 L1360,1160 L1352.5,1180 L1345,1200 L1347.5,1220 L1340,1240 L1335,1260 L1332.5,1280 L1325,1300 L1317.5,1320 L1310,1340 L1302.5,1360 L1297.5,1375 L1292.5,1400 L1290,1420 L1289.9,1416.6 L1296.5,1426.6 L1303.2,1436.6 L1309.9,1444.9 L1314.9,1456.6 L1319.9,1466.6 L1324.9,1473.3 L1343.2,1496.6 L1361.5,1521.6 L1383.2,1529.9 L1398.2,1529.9 L1399.8,1516.6 L1409.8,1503.3 L1399.8,1473.3 L1386.5,1456.6 L1413.2,1466.6 L1433.1,1476.6 L1463.1,1483.3 L1469.8,1476.6 L1473.1,1463.3 L1471.5,1449.9 L1476.5,1436.6 L1493.1,1430 L1509.8,1420" fill="none" stroke="#1c1c1c" stroke-width="4.6" stroke-linejoin="round" stroke-linecap="round"/>
<path d="M992.5,1045 L1015,1025 L1025,1045 L1035,1075 L1030,1070 L1050,1080 L1070,1092.5 L1090,1105 L1110,1120 L1130,1132.5 L1150,1145 L1165,1155 L1200,1165 L1240,1170 L1280,1165 L1300,1160 L1320,1155 L1350,1140 L1362.5,1135" fill="none" stroke="#1c1c1c" stroke-width="4.6" stroke-linejoin="round" stroke-linecap="round"/>
<path d="M1774.8,1021.6 L1768.2,1036.6 L1756.5,1046.6 L1748.2,1053.3 L1736.5,1061.6 L1738.2,1074.9 L1723.2,1083.2 L1711.5,1091.6 L1703.2,1096.6 L1711.5,1109.9 L1723.2,1118.2 L1736.5,1124.9 L1749.8,1128.2 L1759.8,1133.2 L1749.8,1143.2 L1746.5,1153.2 L1736.5,1159.9 L1719.8,1164.9 L1709.8,1169.9 L1723.2,1189.9 L1728.2,1208.2 L1726.5,1219.9 L1729.8,1229.8 L1724.8,1243.2 L1709.8,1241.5 L1696.5,1248.2 L1679.9,1254.8 L1666.5,1258.2 L1659.9,1269.8 L1649.9,1278.2 L1639.9,1284.8 L1629.9,1293.2 L1616.6,1299.8 L1599.9,1308.1 L1583.2,1313.1 L1566.6,1313.1 L1559.9,1326.5 L1556.6,1339.8 L1549.9,1349.8 L1543.2,1359.8 L1533.3,1366.5 L1516.6,1371.5 L1499.9,1373.1 L1498.1,1376.6 L1499.8,1393.3 L1503.1,1406.6 L1509.8,1420" fill="none" stroke="#1c1c1c" stroke-width="4.6" stroke-linejoin="round" stroke-linecap="round"/>
<path d="M1746.5,1173.2 L1763.2,1178.2 L1779.8,1181.5 L1793.1,1186.5 L1809.8,1193.2 L1823.1,1199.9 L1834.8,1201.5 L1831.5,1196.5 L1826.5,1183.2 L1816.5,1169.9 L1809.8,1159.9 L1811.5,1153.2 L1823.1,1139.9 L1833.1,1126.6 L1843.1,1109.9 L1859.8,1106.6 L1876.4,1109.9 L1883.1,1099.9 L1893.1,1096.6 L1916.4,1093.2 L1939.7,1091.6 L1959.7,1093.2" fill="none" stroke="#1c1c1c" stroke-width="4.6" stroke-linejoin="round" stroke-linecap="round"/>
<path d="M1959.7,1093.2 L1963.1,1106.6 L1973.1,1109.9 L1973.1,1123.2 L1949.7,1128.2 L1933.1,1133.2 L1919.8,1136.6 L1916.4,1146.6 L1906.4,1156.5 L1904.8,1173.2 L1898.1,1186.5 L1899.8,1199.9 L1891.4,1213.2 L1896.4,1226.5 L1896.4,1239.8 L1904.8,1249.8 L1899.8,1263.2 L1891.4,1273.2 L1888.1,1286.5 L1879.8,1288.2 L1883.1,1294.8 L1899.8,1296.5 L1916.4,1293.2 L1926.4,1279.8 L1943.1,1286.5 L1956.4,1296.5 L1969.7,1293.2 L1983.1,1301.5 L1999.7,1298.2 L1993.1,1309.8 L1999.7,1323.1 L2004.7,1334.8 L1998.1,1346.5 L1994.7,1359.8 L1983.1,1363.1 L1973.1,1369.8 L1966.4,1379.8 L1949.7,1381.4 L1939.7,1369.8 L1931.4,1363.1 L1933.1,1376.5 L1939.7,1389.8 L1946.4,1403.1 L1930,1360 L1940,1380 L1945,1400 L1955,1420 L1970,1430 L1990,1435 L2015,1440 L2040,1437.5 L2055,1440" fill="none" stroke="#1c1c1c" stroke-width="4.6" stroke-linejoin="round" stroke-linecap="round"/>
<path d="M1959.7,1093.2 L1983.1,1076.6 L2003,1061.6 L2013,1054.9 L2023,1049.9 L2036.4,1043.3 L2046.4,1033.3 L2056.4,1023.3 L2066.4,1013.3 L2083,1006.6 L2099.7,996.6 L2115,990 L2110,990" fill="none" stroke="#1c1c1c" stroke-width="4.6" stroke-linejoin="round" stroke-linecap="round"/>
<path d="M2516,795 L2512.5,786 L2500,777.5 L2480,772.5 L2465,777.5 L2450,782.5 L2430,775 L2415,777.5 L2400,785 L2392.5,795 L2380,805 L2365,810 L2350,822.5 L2335,827.5 L2322.5,830 L2315,845 L2312.5,860 L2315,875 L2317.5,887.5 L2300,887.5 L2285,885 L2270,882.5 L2255,875 L2240,872.5 L2230,885 L2225,900 L2220,915 L2210,922.5 L2195,932.5 L2185,945 L2172.5,955 L2170,962.5 L2155,955 L2140,947.5 L2135,932.5 L2127.5,917.5 L2120,922.5 L2110,935 L2100,950 L2105,970 L2110,990 L2105,1007.5 L2120,1025 L2135,1045 L2150,1065 L2170,1070 L2187.5,1065 L2200,1050 L2210,1035 L2225,1027.5 L2240,1025 L2250,1040 L2255,1055 L2247.5,1070 L2245,1085 L2255,1097.5 L2280,1100 L2300,1102.5 L2315,1107.5 L2322.5,1120 L2317.5,1137.5 L2325,1147.5 L2340,1145 L2360,1142.5 L2385,1142.5" fill="none" stroke="#1c1c1c" stroke-width="4.6" stroke-linejoin="round" stroke-linecap="round"/>
<path d="M2055,1440 L2060,1437.5 L2055,1450 L2065,1452.5 L2085,1455 L2090,1470 L2110,1472.5 L2125,1475 L2135,1487.5 L2145,1482.5 L2160,1475 L2172.5,1465 L2190,1460 L2200,1450 L2210,1455 L2212.5,1475 L2230,1480 L2240,1472.5 L2255,1480 L2265,1495 L2280,1502.5" fill="none" stroke="#1c1c1c" stroke-width="4.6" stroke-linejoin="round" stroke-linecap="round"/>
<path d="M2048,1442.5 L2030,1445 L2015,1460 L2000,1465 L1990,1480 L1975,1495 L1960,1505 L1940,1512.5 L1925,1525 L1910,1537.5 L1905,1550 L1912.5,1565 L1910,1580 L1920,1592.5 L1932.5,1587.5 L1920,1592.5 L1900,1597.5 L1880,1600 L1860,1610 L1850,1620 L1840,1630 L1825,1640 L1815,1655 L1807.5,1672.5" fill="none" stroke="#1c1c1c" stroke-width="4.6" stroke-linejoin="round" stroke-linecap="round"/>
<path d="M1807.5,1672.5 L1790,1675 L1770,1677.5 L1750,1685 L1735,1692.5 L1720,1680 L1700,1665 L1680,1655 L1660,1650 L1640,1647.5 L1631.4,1646.5" fill="none" stroke="#1c1c1c" stroke-width="4.6" stroke-linejoin="round" stroke-linecap="round"/>
<path d="M1509.8,1420 L1519.8,1420 L1533.1,1426.6 L1546.4,1430 L1549.8,1443.3 L1553.1,1456.6 L1566.4,1461.6 L1579.7,1469.9 L1586.4,1479.9 L1599.7,1484.9 L1609.7,1489.9 L1613.1,1503.3 L1619.7,1519.9 L1606.4,1523.2 L1596.4,1529.9 L1593.1,1543.2 L1583.1,1556.6 L1576.4,1563.2 L1579.7,1576.6 L1586.4,1589.9 L1599.7,1593.2 L1616.4,1586.6 L1631.4,1583.2 L1636.4,1596.6 L1646.4,1606.5 L1651.4,1619.9 L1639.7,1626.5 L1633.1,1636.5 L1631.4,1646.5" fill="none" stroke="#1c1c1c" stroke-width="4.6" stroke-linejoin="round" stroke-linecap="round"/>
<path d="M1631.4,1646.5 L1619.7,1659.9 L1599.7,1666.5 L1583.1,1673.2 L1566.4,1678.2 L1573.1,1689.8 L1579.7,1703.2 L1583.1,1716.5 L1581.4,1729.8 L1566.4,1739.8 L1553.1,1759.8 L1539.8,1756.5 L1529.8,1749.8 L1516.4,1743.2 L1509.8,1736.5 L1499.8,1741.5 L1486.5,1744.8 L1473.1,1746.5 L1464.8,1748.2 L1463.1,1738.2 L1456.5,1729.8 L1448.1,1734.8 L1439.8,1736.5 L1436.5,1728.2 L1433.1,1723.2 L1426.5,1729.8" fill="none" stroke="#1c1c1c" stroke-width="4.6" stroke-linejoin="round" stroke-linecap="round"/>
<path d="M1070,1523.2 L1080,1526.6 L1093.3,1533.2 L1100,1543.2 L1113.3,1549.9 L1126.6,1556.6 L1139.9,1566.6 L1153.3,1573.2 L1163.3,1579.9 L1176.6,1583.2 L1183.3,1596.6 L1193.2,1606.5 L1206.6,1609.9 L1216.6,1603.2 L1229.9,1604.9 L1239.9,1613.2 L1253.2,1608.2 L1266.6,1609.9 L1276.5,1616.5 L1286.5,1626.5 L1296.5,1633.2 L1309.9,1638.2 L1319.9,1646.5 L1329.9,1653.2 L1339.9,1663.2 L1346.5,1676.5 L1353.2,1683.2 L1366.5,1689.8 L1376.5,1696.5 L1383.2,1706.5 L1396.5,1713.2 L1406.5,1719.8 L1416.5,1726.5 L1426.5,1729.8" fill="none" stroke="#1c1c1c" stroke-width="4.6" stroke-linejoin="round" stroke-linecap="round"/>
<path d="M1000,1532.5 L1020,1542.5 L1035,1530 L1050,1527.5 L1070,1523.2 L1086.6,1519.9 L1091.6,1509.9 L1096.6,1496.6 L1113.3,1493.3 L1133.3,1496.6 L1136.6,1486.6 L1139.9,1476.6 L1149.9,1469.9 L1156.6,1458.3 L1169.9,1456.6 L1186.6,1458.3 L1201.6,1456.6 L1206.6,1443.3 L1219.9,1440 L1233.2,1440 L1246.6,1436.6 L1253.2,1426.6 L1266.6,1423.3 L1279.9,1420 L1289.9,1416.6" fill="none" stroke="#1c1c1c" stroke-width="4.6" stroke-linejoin="round" stroke-linecap="round"/>
<path d="M1426.5,1729.8 L1423.1,1743.2 L1419.8,1756.5 L1413.2,1766.5 L1411.5,1776.5 L1419.8,1781.5 L1433.1,1783.1 L1436.5,1789.8 L1449.8,1791.5 L1466.5,1789.8 L1473.1,1793.1 L1479.8,1803.1 L1486.5,1813.1 L1488.1,1826.5 L1486.5,1836.4 L1493.1,1846.4 L1490,1845 L1510,1850 L1535,1847.5 L1560,1845 L1580,1847.5 L1600,1840 L1620,1830 L1630,1840 L1650,1845 L1670,1840 L1685,1830 L1690,1850" fill="none" stroke="#1c1c1c" stroke-width="4.6" stroke-linejoin="round" stroke-linecap="round"/>
<path d="M1690,1850 L1705,1860 L1720,1860 L1710,1872.5 L1702.5,1890 L1705,1915 L1720,1920 L1715,1935 L1700,1940 L1685,1935 L1675,1947.5 L1672.5,1980" fill="none" stroke="#1c1c1c" stroke-width="4.6" stroke-linejoin="round" stroke-linecap="round"/>
<path d="M1807.5,1672.5 L1815,1690 L1825,1710 L1830,1730 L1840,1745 L1845,1760 L1835,1772.5 L1820,1780 L1800,1785 L1790,1800 L1795,1820 L1780,1830 L1760,1825 L1740,1820 L1720,1825 L1700,1830 L1690,1850" fill="none" stroke="#1c1c1c" stroke-width="4.6" stroke-linejoin="round" stroke-linecap="round"/>
<path d="M934,930 L931,915 L940,900 L959,889 L970,870 L980,852.5 L1000,842.5 L1017.5,827.5 L1025,810 L1012.5,792.5 L1007.5,770 L1000,750 L985,735 L965,720 L952.5,707.5 L955,692.5 L970,680 L976,660 L975,642.5 L982.5,627.5 L980,607.5 L992.5,595 L1007.5,589 L1022.5,580 L1050,575 L1095,566 L1092.5,550 L1087.5,530 L1077.5,510 L1067.5,495 L1067.5,475 L1075,460 L1087.5,447.5 L1080,435 L1071,422.5 L1072.5,405 L1070,390 L1082.5,381 L1105,375 L1135,374 L1155,367.5 L1162.5,355 L1157.5,340 L1150,327.5 L1157.5,315 L1167.5,309 L1180,317.5 L1195,327.5 L1205,342.5 L1210,355 L1230,359 L1250,356 L1267.5,350 L1281,362.5 L1282.5,377.5 L1272.5,392.5 L1266.5,402 L1250,416 L1255,428 L1268,418 L1281,408 L1297,404 L1314,406 L1330,402 L1345,390 L1352.5,380 L1372.5,370 L1392.5,362.5 L1410,352.5 L1425,342.5 L1440,325 L1455,315 L1475,305 L1495,295 L1515,286 L1531,279 L1537.5,266 L1550,256 L1570,242.5 L1590,232.5 L1610,222.5 L1630,214 L1647.5,206.5 L1665,204 L1682.5,207.5 L1700,211 L1720,214 L1742.5,215 L1762.5,220 L1771,227.5 L1767.5,242.5 L1757.5,260 L1750,275 L1745,292.5 L1760,300 L1780,307.5 L1800,315 L1815,322.5 L1827.5,327.5 L1840,317.5 L1860,307.5 L1880,300 L1900,296 L1920,302.5 L1940,307.5 L1957.5,310 L1975,322.5 L1992.5,340 L2015,347.5 L2035,357.5 L2050,370 L2065,380 L2087.5,392.5 L2105,400 L2120,395 L2132.5,395 L2145,412.5 L2165,410 L2182.5,407.5 L2195,397.5 L2210,396 L2311,486 L2316,542.5 L2335,537.5 L2355,542.5 L2375,534 L2395,520 L2410,522.5 L2427.5,519 L2440,532.5 L2455,522.5 L2470,535 L2485,550 L2507.5,545 L2520,552.5 L2540,555 L2560,552.5 L2572.5,570 L2592.5,575 L2607.5,590 L2625,596 L2639,597.5 L2642.5,620 L2639,642.5 L2625,660 L2607.5,675 L2597.5,692.5 L2580,707.5 L2570,725 L2550,740 L2542.5,762.5 L2537.5,775 L2555,782.5 L2550,795 L2540,800 L2520,795 L2505,795 L2500,810 L2487.5,830 L2482.5,850 L2485,870 L2480,890 L2480,900 L2500,922.5 L2520,942.5 L2540,955 L2555,972.5 L2567.5,992.5 L2572.5,1007.5 L2560,1020 L2562.5,1035 L2545,1027.5 L2520,1020 L2500,1020 L2480,1027.5 L2470,1045 L2450,1045 L2430,1032.5 L2415,1040 L2427.5,1055 L2442.5,1070 L2442.5,1077.5 L2420,1075 L2400,1075 L2380,1082.5 L2367.5,1092.5 L2360,1110 L2354,1125 L2357.5,1140 L2385,1142.5 L2387.5,1170 L2382.5,1187.5 L2400,1195 L2407.5,1220 L2392.5,1227.5 L2370,1227.5 L2350,1232.5 L2365,1250 L2385,1260 L2375,1272.5 L2387.5,1287.5 L2400,1300 L2407.5,1317.5 L2405,1335 L2400,1355 L2392.5,1372.5 L2380,1380 L2377.5,1392.5 L2360,1405 L2350,1420 L2352.5,1435 L2345,1450 L2335,1465 L2322.5,1475 L2317.5,1492.5 L2300,1500 L2280,1502.5 L2265,1497.5 L2250,1507.5 L2235,1520 L2220,1532.5 L2212.5,1545 L2202.5,1560 L2200,1575 L2210,1590 L2205,1610 L2207.5,1630 L2200,1650 L2197.5,1665 L2185,1670 L2172.5,1690 L2150,1700 L2135,1710 L2147.5,1717.5 L2130,1735 L2120,1760 L2122.5,1780 L2112.5,1800 L2105,1820 L2107.5,1840 L2100,1860 L2105,1870 L2090,1875 L2060,1887.5 L2025,1900 L2000,1910 L1975,1920 L1950,1927.5 L1930,1935 L1920,1952.5 L1910,1955 L1900,1940 L1890,1935 L1870,1940 L1850,1942.5 L1830,1940 L1800,1945 L1780,1952.5 L1760,1947.5 L1740,1960 L1720,1967.5 L1705,1972.5 L1670,1987.5 L1640,1992.5 L1620,1992.5 L1600,2000 L1575,2010 L1562.5,2012.5 L1545,2020 L1525,2025 L1500,2035 L1480,2042.5 L1462.5,2050 L1442.5,2062.5 L1425,2072.5 L1410,2077.5 L1392.5,2065 L1375,2075 L1370,2070 L1360,2074 L1347.5,2075 L1350,2062.5 L1340,2065 L1335,2075 L1332.5,2087.5 L1330,2115 L1320,2119 L1300,2125 L1280,2124 L1250,2131 L1240,2136 L1220,2126 L1200,2134 L1190,2127.5 L1194,2112.5 L1200,2107.5 L1182.5,2100 L1172.5,2090 L1169,2084 L1185,2075 L1184,2060 L1175,2050 L1155,2040 L1137.5,2025 L1115,2002.5 L1122.5,1985 L1120,1970 L1127.5,1960 L1115,1950 L1125,1937.5 L1135,1925 L1125,1910 L1127.5,1892.5 L1137.5,1875 L1137.5,1872.5 L1155,1862.5 L1165,1850 L1160,1832.5 L1165,1820 L1155,1807.5 L1140,1800 L1120,1795 L1100,1795 L1075,1800 L1050,1802.5 L1045,1780 L1035,1760 L1025,1740 L1020,1720 L1015,1700 L1002.5,1680 L1007.5,1660 L1020,1645 L1017.5,1625 L1007.5,1605 L995,1585 L990,1565 L1000,1545 L990,1530 L975,1515 L960,1500 L950,1482.5 L925,1487.5 L900,1490 L880,1495 L860,1490 L850,1500 L835,1512.5 L810,1517.5 L795,1507.5 L785,1495 L775,1497.5 L760,1510 L730,1512.5 L700,1517.5 L670,1522.5 L642.5,1530 L635,1550 L642.5,1575 L630,1582.5 L615,1570 L617.5,1545 L610,1522.5 L592.5,1527.5 L580,1545 L565,1555 L550,1540 L545,1525 L542.5,1505 L552.5,1490 L550,1480 L520,1482.5 L500,1475 L480,1467.5 L440,1470 L400,1470 L370,1465 L335,1457.5 L300,1452.5 L265,1445 L230,1470 L200,1480 L180,1490 L160,1497.5 L157.5,1480 L165,1465 L155,1445 L152.5,1425 L162.5,1405 L175,1387.5 L172.5,1375 L192.5,1365 L200,1347.5 L207.5,1330 L225,1315 L235,1297.5 L255,1290 L272.5,1272.5 L272.5,1250 L290,1240 L295,1225 L315,1205 L335,1195 L360,1187.5 L375,1177.5 L400,1175 L430,1177.5 L450,1172.5 L465,1165 L487.5,1162.5 L490,1152.5 L500,1155 L500,1170 L515,1180 L525,1182.5 L540,1170 L550,1155 L560,1145 L562.5,1132.5 L580,1127.5 L600,1125 L615,1115 L625,1110 L640,1120 L660,1120 L680,1117.5 L700,1115 L715,1120 L735,1122.5 L755,1122.5 L770,1116 L782.5,1122.5 L792.5,1130 L810,1135 L825,1137.5 L837.5,1150 L850,1145 L865,1140 L880,1132.5 L895,1125 L905,1115 L912.5,1100 L925,1092.5 L945,1080 L965,1067.5 L982.5,1057.5 L992.5,1045 L980,1025 L972.5,1007.5 L980,990 L987.5,975 L992.5,960 L995,947.5 L980,930 L960,920 L945,910Z" fill="none" stroke="#1c1c1c" stroke-width="5" stroke-linejoin="round"/>
<text class="temp" x="1150.0" y="457.5" textLength="141" lengthAdjust="spacingAndGlyphs">39°C</text>
<text class="temp" x="1720.0" y="395" textLength="141" lengthAdjust="spacingAndGlyphs">40°C</text>
<text class="temp" x="1790.0" y="680" textLength="141" lengthAdjust="spacingAndGlyphs">37°C</text>
<text class="temp" x="1495.0" y="810" textLength="141" lengthAdjust="spacingAndGlyphs">36°C</text>
<text class="temp" x="1101.0" y="926.5" textLength="141" lengthAdjust="spacingAndGlyphs">37°C</text>
<text class="temp" x="2301.0" y="740" textLength="141" lengthAdjust="spacingAndGlyphs">37°C</text>
<text class="temp" x="2301.0" y="926.5" textLength="141" lengthAdjust="spacingAndGlyphs">33°C</text>
<text class="temp" x="201.0" y="1371.5" textLength="141" lengthAdjust="spacingAndGlyphs">33°C</text>
<text class="temp" x="788.5" y="1309" textLength="141" lengthAdjust="spacingAndGlyphs">32°C</text>
<text class="temp" x="675.0" y="1441.5" textLength="141" lengthAdjust="spacingAndGlyphs">32°C</text>
<text class="temp" x="1102.5" y="1112.5" textLength="141" lengthAdjust="spacingAndGlyphs">34°C</text>
<text class="temp" x="1583.5" y="1147.5" textLength="141" lengthAdjust="spacingAndGlyphs">35°C</text>
<text class="temp" x="1824.5" y="1037.5" textLength="141" lengthAdjust="spacingAndGlyphs">29°C</text>
<text class="temp" x="1755.0" y="1385" textLength="141" lengthAdjust="spacingAndGlyphs">33°C</text>
<text class="temp" x="1271.0" y="1576" textLength="141" lengthAdjust="spacingAndGlyphs">30°C</text>
<text class="temp" x="2124.5" y="1180" textLength="141" lengthAdjust="spacingAndGlyphs">35°C</text>
<text class="temp" x="2055.0" y="1307.5" textLength="141" lengthAdjust="spacingAndGlyphs">32°C</text>
<text class="temp" x="2031.0" y="1544" textLength="141" lengthAdjust="spacingAndGlyphs">30°C</text>
<text class="temp" x="1191.0" y="1825" textLength="141" lengthAdjust="spacingAndGlyphs">28°C</text>
<text class="temp" x="1627.0" y="1760" textLength="141" lengthAdjust="spacingAndGlyphs">26°C</text>
<text class="temp" x="1746.0" y="1936" textLength="141" lengthAdjust="spacingAndGlyphs">26°C</text>
<text class="temp" x="1537.5" y="1954" textLength="141" lengthAdjust="spacingAndGlyphs">25°C</text>
<text class="temp" x="1152.5" y="2032.5" textLength="141" lengthAdjust="spacingAndGlyphs">27°C</text>
<text class="city" x="1193.0" y="502.0" textLength="113.5" lengthAdjust="spacingAndGlyphs">Buritis</text>
<text class="city" x="1652.5" y="472.0" textLength="151" lengthAdjust="spacingAndGlyphs">Januária</text>
<text class="city" x="1762.5" y="747.0" textLength="254.5" lengthAdjust="spacingAndGlyphs">Montes Claros</text>
<text class="city" x="1093.0" y="857.0" textLength="154.5" lengthAdjust="spacingAndGlyphs">Paracatu</text>
<text class="city" x="1520.5" y="886.0" textLength="147" lengthAdjust="spacingAndGlyphs">Pirapora</text>
<text class="city" x="2467.0" y="625.5" textLength="169.5" lengthAdjust="spacingAndGlyphs">Almenara</text>
<text class="city" x="243.0" y="1409.5" textLength="203.5" lengthAdjust="spacingAndGlyphs">Carneirinho</text>
<text class="city" x="780.0" y="1235.5" textLength="192" lengthAdjust="spacingAndGlyphs">Uberlândia</text>
<text class="city" x="845.5" y="1413.0" textLength="152" lengthAdjust="spacingAndGlyphs">Uberaba</text>
<text class="city" x="1172.0" y="1163.0" textLength="272" lengthAdjust="spacingAndGlyphs">Patos de Minas</text>
<text class="city" x="1248.0" y="1409.5" textLength="246" lengthAdjust="spacingAndGlyphs">Campos Altos</text>
<text class="city" x="1636.5" y="1199.5" textLength="134.5" lengthAdjust="spacingAndGlyphs">Curvelo</text>
<text class="city" x="1822.5" y="1084.5" textLength="204.5" lengthAdjust="spacingAndGlyphs">Diamantina</text>
<text class="city" x="1749.0" y="1462.0" textLength="266" lengthAdjust="spacingAndGlyphs">Belo Horizonte</text>
<text class="city" x="1511.0" y="1507.0" text-anchor="end" textLength="194" lengthAdjust="spacingAndGlyphs">Divinópolis</text>
<text class="city" x="2287.5" y="1000.5" textLength="234.5" lengthAdjust="spacingAndGlyphs">Teófilo Otoni</text>
<text class="city" x="2190.0" y="1220.5" textLength="402" lengthAdjust="spacingAndGlyphs">Governador Valadares</text>
<text class="city" x="2062.5" y="1360.5" textLength="147" lengthAdjust="spacingAndGlyphs">Ipatinga</text>
<text class="city" x="2170.5" y="1534.5" textLength="180.5" lengthAdjust="spacingAndGlyphs">Manhuaçu</text>
<text class="city" x="1983.0" y="1642.0" textLength="112" lengthAdjust="spacingAndGlyphs">Viçosa</text>
<text class="city" x="1783.0" y="1749.5" textLength="185" lengthAdjust="spacingAndGlyphs">Barbacena</text>
<text class="city" x="1878.0" y="1869.5" textLength="217" lengthAdjust="spacingAndGlyphs">Juiz de Fora</text>
<text class="city" x="1540.0" y="1985.5" textLength="162" lengthAdjust="spacingAndGlyphs">Itamonte</text>
<text class="city" x="1162.5" y="1874.5" textLength="292" lengthAdjust="spacingAndGlyphs">Poços de Caldas</text>
<text class="city" x="1216.5" y="2112.0" textLength="145.5" lengthAdjust="spacingAndGlyphs">Extrema</text>
<text class="uf" x="407" y="602">GO</text>
<text class="uf" x="2402" y="345">BA</text>
<text class="uf" x="2494" y="1437">ES</text>
<text class="uf" x="695" y="1894">SP</text>
<text class="uf" x="1940" y="2019">RJ</text>
<text x="2776" y="1203" font-size="48">Legenda</text>
<use href="#i-chuva" transform="translate(2774.8,1234.8) scale(0.12318)"/>
<use href="#i-tisol" transform="translate(2774.8,1441.3) scale(0.12318)"/>
<use href="#i-tsev" transform="translate(2774.8,1647.5) scale(0.12318)"/>
<use href="#i-sol" transform="translate(2774.8,1854.8) scale(0.12318)"/>
<text class="leg" x="2977.5" y="1342" textLength="354" lengthAdjust="spacingAndGlyphs">Chuvas Isoladas</text>
<text class="leg" x="2977.5" y="1549" textLength="441.5" lengthAdjust="spacingAndGlyphs">Tempestade Isolada</text>
<text class="leg" x="2977.5" y="1755" textLength="431.5" lengthAdjust="spacingAndGlyphs">Tempestade Severa</text>
<text class="leg" x="2977.5" y="1962" textLength="373" lengthAdjust="spacingAndGlyphs">Sol entre Nuvens</text>
<text x="2566" y="2136" font-size="44.5" font-weight="bold" textLength="811" lengthAdjust="spacingAndGlyphs">*Válido até às 10h do dia 19/10/2025.</text>
<path d="M215,1872 L186,1947 L215,1917Z" fill="#ccc" stroke="#000" stroke-width="2.5" stroke-linejoin="miter"/>
<path d="M215,1872 L244,1947 L215,1917Z" fill="#fff" stroke="#000" stroke-width="2.5" stroke-linejoin="miter"/>
<path d="M188.5,2100.5 H406.5 M188.5,2082 V2120.5 M297.5,2082 V2120.5 M406.5,2082 V2120.5" stroke="#000" stroke-width="2.6" fill="none"/>
<text x="188.5" y="2048" font-size="48" text-anchor="middle">0</text>
<text x="297.5" y="2048" font-size="48" text-anchor="middle">50</text>
<text x="367.5" y="2048" font-size="48">100 km</text>
</g>
<rect x="136" y="196" width="3305" height="1958" fill="none" stroke="#000" stroke-width="3"/>
<rect x="139.5" y="2253.5" width="1206" height="187" fill="#fff" stroke="#000" stroke-width="3.5"/>
<rect x="1350" y="2253.5" width="2091.5" height="187" fill="#fff" stroke="#000" stroke-width="3.5"/>
<rect x="1343.8" y="2252" width="8.2" height="190" fill="#000"/>
<text x="2395.5" y="2303.6" font-size="28.7" text-anchor="middle" textLength="657" lengthAdjust="spacingAndGlyphs">Projeção: Latitude/Longitude - Datum SIRGAS2000</text>
<text x="2395.5" y="2338.8" font-size="28.7" text-anchor="middle" textLength="403" lengthAdjust="spacingAndGlyphs">Mesorregiões/MG - IGAM, 2009</text>
<text x="2395.5" y="2374.0" font-size="28.7" text-anchor="middle" textLength="196.5" lengthAdjust="spacingAndGlyphs">Basemap: ESRI</text>
<text x="2395.5" y="2409.2" font-size="28.7" text-anchor="middle" textLength="522" lengthAdjust="spacingAndGlyphs">Previsão de Tempo - SIMGE/IGAM, 2025</text>
<g id="igam">
<path d="M261,2315 C264,2296 272,2277 290,2276 C305,2276 314,2288 313,2301 C312,2314 300,2320 288,2319 C278,2318 268,2315 261,2315Z M274,2306 C281,2309 291,2311 297,2308 C303,2304 303,2293 297,2289 C291,2285 283,2288 280,2294 C277,2299 275,2303 274,2306Z" fill="#7cc5ee" fill-rule="evenodd"/>
<path d="M294,2359 C281,2363 262,2366 251,2361 C240,2355 239,2339 246,2329 C254,2319 268,2319 277,2326 C286,2334 292,2348 294,2359Z M281,2351 C279,2344 275,2337 269,2334 C263,2331 255,2335 253,2341 C251,2348 256,2354 263,2354 C269,2354 275,2353 281,2351Z" fill="#00539b" fill-rule="evenodd"/>
<path d="M317,2309 C326,2319 338,2333 339,2344 C339,2356 329,2364 317,2364 C304,2364 294,2356 294,2344 C295,2333 308,2319 317,2309Z M317,2327 C312,2333 306,2340 306,2345 C306,2351 311,2354 317,2354 C323,2354 328,2351 328,2345 C328,2340 322,2333 317,2327Z" fill="#0a93d4" fill-rule="evenodd"/>
<text x="356" y="2360" font-size="112" font-weight="bold" font-family="'Liberation Sans',sans-serif" fill="#00539b" textLength="273" lengthAdjust="spacingAndGlyphs">Igam</text>
<text x="240" y="2402.5" font-size="22.5" font-family="'Liberation Sans',sans-serif" fill="#707070" textLength="388.5" lengthAdjust="spacingAndGlyphs">Instituto Mineiro de Gestão das Águas</text>
</g>
<g id="simge">
<path d="M860,2388 C880,2376 905,2374 925,2372 C935,2380 952,2384 968,2377 L965,2372 L860,2388Z" fill="#d4d4d4"/>
<path d="M917.5,2298.8 L904.5,2317.5 L925.8,2311.3Z" fill="#b5222d"/>
<path d="M932.5,2320.5 L967,2375 C955,2381 935,2380 917.5,2378 C930,2372 940,2365 937.5,2352 C934,2340 915,2338 906,2332 C900,2326 905,2322 913,2321 C920,2320 927,2320.5 932.5,2320.5Z" fill="#ec1c24"/>
<path d="M891,2338.8 C900,2348 920,2352 925,2357.5 C927,2364 922,2369 905,2372.5 C885,2375 870,2378 860,2386 Z" fill="#b5222d"/>
<text x="979" y="2346.3" font-size="64" font-family="'Liberation Sans',sans-serif" fill="#6d6e70" stroke="#6d6e70" stroke-width="2" textLength="242" lengthAdjust="spacing">SIMGE</text>
<text x="981" y="2368.8" font-size="15.5" font-family="'Liberation Sans',sans-serif" fill="#666" textLength="241.5" lengthAdjust="spacingAndGlyphs">Sistema de Meteorologia e Recursos</text>
<text x="1018.8" y="2387.5" font-size="15.5" font-family="'Liberation Sans',sans-serif" fill="#666" textLength="167.5" lengthAdjust="spacingAndGlyphs">Hídricos de Minas Gerais</text>
</g>
</svg></body></html>
